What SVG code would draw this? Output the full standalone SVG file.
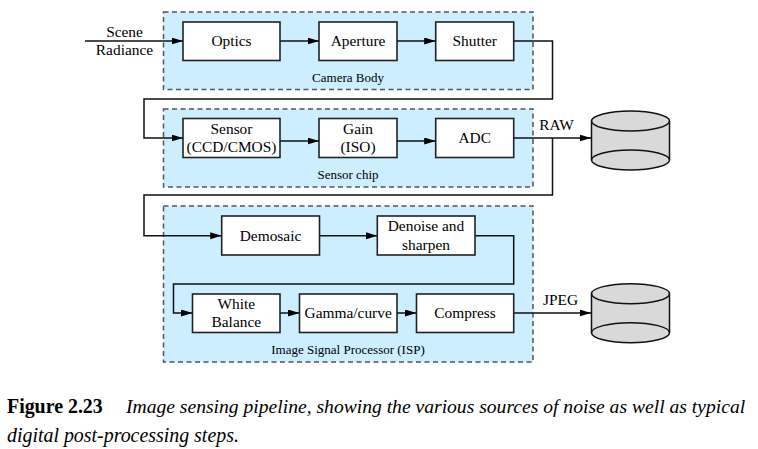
<svg xmlns="http://www.w3.org/2000/svg" width="758" height="449" viewBox="0 0 758 449">
<style>
text{font-family:"Liberation Serif","Times New Roman",serif;fill:#000;text-anchor:middle}
.n{font-size:15.4px}
.s{font-size:13px}
.c{fill:#cceeff;stroke:#555;stroke-width:1.5;stroke-dasharray:5 3.5}
.b{fill:#fff;stroke:#222;stroke-width:1.6}
.w{fill:none;stroke:#111;stroke-width:1.5}
.d{fill:#d9d9d9;stroke:#111;stroke-width:1.5}
.e{fill:none;stroke:#111;stroke-width:1.5}
.cap{font-size:19.6px;text-anchor:start}
</style>
<defs><marker id="a" markerUnits="userSpaceOnUse" markerWidth="12" markerHeight="8" refX="11.5" refY="3.5" orient="auto"><path d="M0 0L11.5 3.5L0 7z" fill="#000"/></marker></defs>
<g id="camera-body"><rect class="c" x="163.5" y="12" width="369.5" height="77.5"/><text class="s" x="348" y="82">Camera Body</text></g>
<g id="sensor-chip"><rect class="c" x="163.5" y="109" width="369.5" height="78"/><text class="s" x="348" y="179">Sensor chip</text></g>
<g id="isp"><rect class="c" x="163.5" y="206" width="369.5" height="156"/><text class="s" x="348" y="354">Image Signal Processor (ISP)</text></g>
<g id="connectors">
<path class="w" marker-end="url(#a)" d="M85 41H183"/>
<path class="w" marker-end="url(#a)" d="M280 41H319"/>
<path class="w" marker-end="url(#a)" d="M397 41H435.7"/>
<path class="w" marker-end="url(#a)" d="M513.7 41H552.5V99H144V138H183"/>
<path class="w" marker-end="url(#a)" d="M280 141H319"/>
<path class="w" marker-end="url(#a)" d="M397 141H435.7"/>
<path class="w" marker-end="url(#a)" d="M513.7 138H591"/>
<path class="w" marker-end="url(#a)" d="M552.5 138V195H144V235.7H221.7"/>
<path class="w" marker-end="url(#a)" d="M319.5 235.7H377.3"/>
<path class="w" marker-end="url(#a)" d="M475 235.7H513.7V284H173.5V313H192.5"/>
<path class="w" marker-end="url(#a)" d="M280 313H299.5"/>
<path class="w" marker-end="url(#a)" d="M397 313H416.5"/>
<path class="w" marker-end="url(#a)" d="M513.7 313H591"/>
</g>
<g id="scene-radiance"><text class="n" x="124.5" y="37">Scene</text><text class="n" x="124.5" y="55">Radiance</text></g>
<g id="optics"><rect class="b" x="183" y="22" width="97" height="38.5"/><text class="n" x="231.5" y="46">Optics</text></g>
<g id="aperture"><rect class="b" x="319" y="22" width="78" height="38.5"/><text class="n" x="358" y="46">Aperture</text></g>
<g id="shutter"><rect class="b" x="435.7" y="22" width="78" height="38.5"/><text class="n" x="474.7" y="46">Shutter</text></g>
<g id="sensor"><rect class="b" x="183" y="118.5" width="97" height="39"/><text class="n" x="231.5" y="134">Sensor</text><text class="n" x="231.5" y="152">(CCD/CMOS)</text></g>
<g id="gain"><rect class="b" x="319" y="118.5" width="78" height="39"/><text class="n" x="358" y="134">Gain</text><text class="n" x="358" y="152">(ISO)</text></g>
<g id="adc"><rect class="b" x="435.7" y="118.5" width="78" height="39"/><text class="n" x="474.7" y="143">ADC</text></g>
<g id="raw"><text class="n" x="556.5" y="130">RAW</text></g>
<g id="raw-store"><path class="d" d="M591.5 121V160A39 10 0 0 0 669.5 160V121A39 10 0 0 0 591.5 121Z"/><path class="e" d="M591.5 121A39 10 0 0 0 669.5 121M591.5 160A39 10 0 0 1 669.5 160"/></g>
<g id="demosaic"><rect class="b" x="221.7" y="216" width="97.8" height="39"/><text class="n" x="270.5" y="241">Demosaic</text></g>
<g id="denoise"><rect class="b" x="377.3" y="216" width="97.7" height="39"/><text class="n" x="426" y="231">Denoise and</text><text class="n" x="426" y="250">sharpen</text></g>
<g id="white-balance"><rect class="b" x="192.5" y="294" width="87.5" height="38.5"/><text class="n" x="236.3" y="309">White</text><text class="n" x="236.3" y="327">Balance</text></g>
<g id="gamma"><rect class="b" x="299.5" y="294" width="97.5" height="38.5"/><text class="n" x="348.2" y="318">Gamma/curve</text></g>
<g id="compress"><rect class="b" x="416.5" y="294" width="97.2" height="38.5"/><text class="n" x="465" y="318">Compress</text></g>
<g id="jpeg"><text class="n" x="560.5" y="305">JPEG</text></g>
<g id="jpeg-store"><path class="d" d="M591.5 293.7V332.7A39 10 0 0 0 669.5 332.7V293.7A39 10 0 0 0 591.5 293.7Z"/><path class="e" d="M591.5 293.7A39 10 0 0 0 669.5 293.7M591.5 332.7A39 10 0 0 1 669.5 332.7"/></g>
<g id="caption"><text class="cap" x="7" y="412.7"><tspan font-weight="bold" font-size="19.9">Figure 2.23</tspan><tspan x="126" font-style="italic">Image sensing pipeline, showing the various sources of noise as well as typical</tspan></text><text class="cap" x="7" y="441.7" font-style="italic" font-size="19.9" style="font-size:19.9px">digital post-processing steps.</text></g>
</svg>
